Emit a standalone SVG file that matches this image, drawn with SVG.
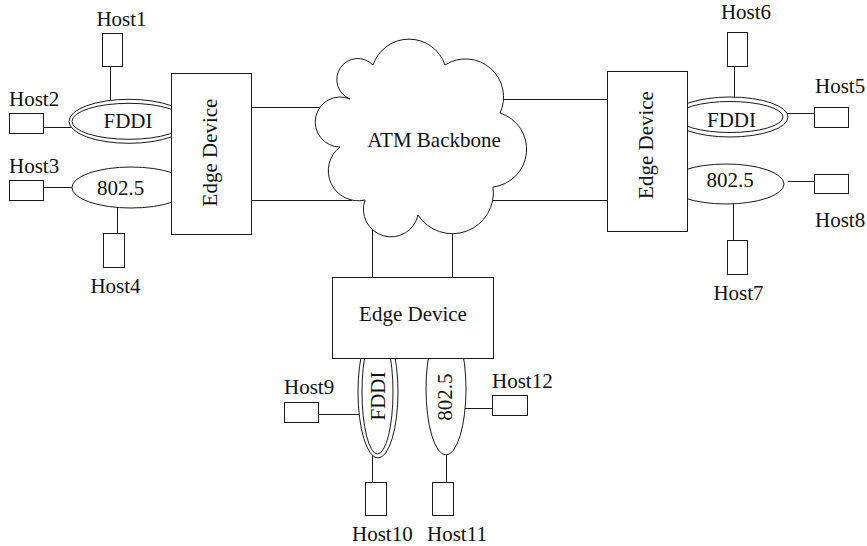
<svg xmlns="http://www.w3.org/2000/svg" width="867" height="546" viewBox="0 0 867 546" font-family="'Liberation Serif', 'Times New Roman', Times, serif" font-size="21">
  <style>
    .ln { stroke: #1a1a1a; stroke-width: 1; fill: none; }
    .box { stroke: #1a1a1a; stroke-width: 1; fill: #ffffff; }
    .ring { stroke: #1a1a1a; stroke-width: 1; fill: #ffffff; }
    text { fill: #111; }
    .mid { text-anchor: middle; }
  </style>

  <!-- links between hosts, rings, edge devices and the backbone -->
  <g id="connectors">
    <line class="ln" x1="110.5" y1="66" x2="110.5" y2="101"/>
    <line class="ln" x1="43" y1="127.5" x2="71" y2="127.5"/>
    <line class="ln" x1="43" y1="187.5" x2="74" y2="187.5"/>
    <line class="ln" x1="117.5" y1="205" x2="117.5" y2="233"/>
    <line class="ln" x1="251" y1="107.5" x2="325" y2="107.5"/>
    <line class="ln" x1="251" y1="200.5" x2="352" y2="200.5"/>
    <line class="ln" x1="498" y1="99.5" x2="607" y2="99.5"/>
    <line class="ln" x1="488" y1="200.5" x2="607" y2="200.5"/>
    <line class="ln" x1="372.5" y1="228" x2="372.5" y2="277"/>
    <line class="ln" x1="452.5" y1="228" x2="452.5" y2="277"/>
    <line class="ln" x1="734.5" y1="66" x2="734.5" y2="99"/>
    <line class="ln" x1="786" y1="113.5" x2="814" y2="113.5"/>
    <line class="ln" x1="788" y1="181.5" x2="814" y2="181.5"/>
    <line class="ln" x1="733.5" y1="202" x2="733.5" y2="240"/>
    <line class="ln" x1="318" y1="414.5" x2="359" y2="414.5"/>
    <line class="ln" x1="372.5" y1="455" x2="372.5" y2="482"/>
    <line class="ln" x1="465" y1="408.5" x2="492" y2="408.5"/>
    <line class="ln" x1="446.5" y1="454" x2="446.5" y2="482"/>
  </g>

  <!-- left site -->
  <g id="host1">
    <rect class="box" x="102.5" y="33.5" width="20" height="33"/>
    <text class="mid" x="121.5" y="26">Host1</text>
  </g>
  <g id="host2">
    <rect class="box" x="9.5" y="113.5" width="34" height="20"/>
    <text x="9" y="106">Host2</text>
  </g>
  <g id="host3">
    <rect class="box" x="9.5" y="180.5" width="34" height="20"/>
    <text x="9" y="173">Host3</text>
  </g>
  <g id="host4">
    <rect class="box" x="103.5" y="233.5" width="21" height="34"/>
    <text class="mid" x="115.5" y="293">Host4</text>
  </g>
  <g id="fddi-left">
    <ellipse class="ring" cx="129" cy="121.3" rx="60" ry="22"/>
    <ellipse class="ring" cx="129" cy="121.3" rx="57" ry="18"/>
    <text class="mid" x="128" y="127.5">FDDI</text>
  </g>
  <g id="tokenring-left">
    <ellipse class="ring" cx="131" cy="187.5" rx="59" ry="20.5"/>
    <text class="mid" x="120.5" y="195">802.5</text>
  </g>
  <g id="edge-left">
    <rect class="box" x="171.5" y="73.5" width="80" height="161"/>
    <text class="mid" transform="translate(217,152.5) rotate(-90)">Edge Device</text>
  </g>

  <!-- right site -->
  <g id="host6">
    <rect class="box" x="727.5" y="32.5" width="20" height="34"/>
    <text class="mid" x="746" y="18.5">Host6</text>
  </g>
  <g id="host5">
    <rect class="box" x="814.5" y="107.5" width="34" height="20"/>
    <text x="815" y="93">Host5</text>
  </g>
  <g id="host8">
    <rect class="box" x="814.5" y="174.5" width="34" height="19"/>
    <text x="815" y="227">Host8</text>
  </g>
  <g id="host7">
    <rect class="box" x="727.5" y="240.5" width="20" height="34"/>
    <text class="mid" x="738.5" y="300">Host7</text>
  </g>
  <g id="fddi-right">
    <ellipse class="ring" cx="730" cy="117" rx="58" ry="20"/>
    <ellipse class="ring" cx="730" cy="117" rx="53" ry="15.5"/>
    <text class="mid" x="731.5" y="127">FDDI</text>
  </g>
  <g id="tokenring-right">
    <ellipse class="ring" cx="726" cy="184" rx="58" ry="20"/>
    <text class="mid" x="730" y="187">802.5</text>
  </g>
  <g id="edge-right">
    <rect class="box" x="607.5" y="71.5" width="80" height="160"/>
    <text class="mid" transform="translate(653,145) rotate(-90)">Edge Device</text>
  </g>

  <!-- bottom site -->
  <g id="host9">
    <rect class="box" x="284.5" y="402.5" width="34" height="20"/>
    <text x="284" y="394">Host9</text>
  </g>
  <g id="host10">
    <rect class="box" x="365.5" y="482.5" width="21" height="33"/>
    <text x="352" y="541">Host10</text>
  </g>
  <g id="host11">
    <rect class="box" x="432.5" y="482.5" width="21" height="33"/>
    <text x="427" y="541">Host11</text>
  </g>
  <g id="host12">
    <rect class="box" x="492.5" y="395.5" width="35" height="20"/>
    <text x="492" y="388">Host12</text>
  </g>
  <g id="fddi-bottom">
    <ellipse class="ring" cx="378" cy="392" rx="20" ry="66"/>
    <ellipse class="ring" cx="377.5" cy="392" rx="15.5" ry="62"/>
    <text class="mid" transform="translate(385,396) rotate(-90)">FDDI</text>
  </g>
  <g id="tokenring-bottom">
    <ellipse class="ring" cx="446" cy="389" rx="20" ry="66"/>
    <text class="mid" transform="translate(451.5,397) rotate(-90)">802.5</text>
  </g>
  <g id="edge-bottom">
    <rect class="box" x="332.5" y="277.5" width="161" height="81"/>
    <text class="mid" x="413" y="321">Edge Device</text>
  </g>

  <!-- backbone cloud -->
  <g id="atm-backbone">
    <path class="box" d="M373,65 A38,38 0 0 1 445,65 A38,38 0 0 1 500,113 A38,38 0 0 1 493,187 A41,41 0 0 1 418,215 A27.6,27.6 0 1 1 365,200 A30,30 0 0 1 340,147 A25,25 0 1 1 350,99 A21,21 0 1 1 373,65 Z"/>
    <text class="mid" x="434" y="147">ATM Backbone</text>
  </g>
</svg>
